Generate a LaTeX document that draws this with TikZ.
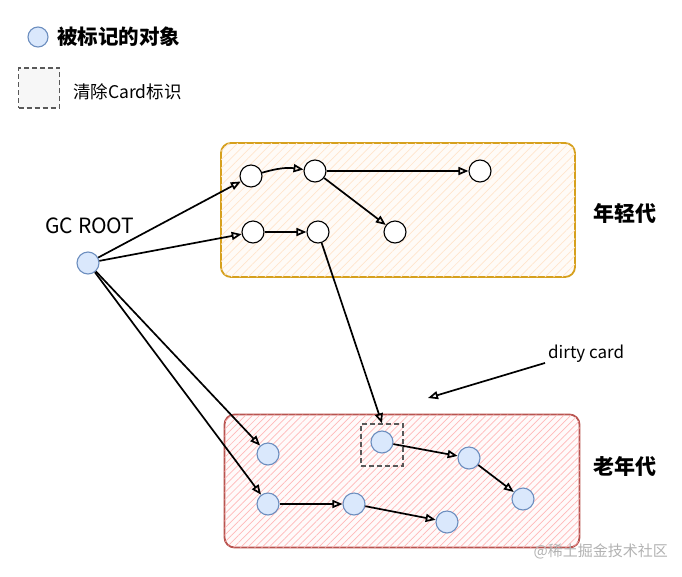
\documentclass[tikz,border=0pt]{standalone}
\usepackage{fontspec}
\setmainfont{Noto Sans CJK SC}
\usepackage{tikz}
\usetikzlibrary{arrows.meta,patterns.meta}
\pgfdeclarelayer{bg}
\pgfsetlayers{bg,main}
\definecolor{objfill}{HTML}{DAE8FC}
\definecolor{objline}{HTML}{6C8EBF}
\definecolor{younglinec}{HTML}{D6A01D}
\definecolor{oldlinec}{HTML}{B85450}
\tikzset{
  obj/.style={circle, draw=objline, fill=objfill, line width=1.1pt, minimum size=22pt, inner sep=0pt},
  plain/.style={circle, draw=black, fill=white, line width=1.1pt, minimum size=22pt, inner sep=0pt},
  ref/.style={line width=1.7pt, -{Triangle[open,length=10pt,width=8pt]}},
  cardbox/.style={draw=black!65, dash pattern=on 5pt off 3pt, line width=1.4pt, fill=black!3, inner sep=0pt},
  region/.style={line width=1.8pt, rounded corners=10pt},
}

\begin{document}
\begin{tikzpicture}
        \useasboundingbox (0pt, 0pt) rectangle (682pt, -576pt);
        % legend
        \node (l0) [obj, minimum size=20pt] at (38pt, -37pt) {};
        \node (l1) [anchor=west, inner sep=0pt, font=\bfseries\fontsize{20.5}{22}\selectfont] at (57pt, -37pt) {被标记的对象};
        \node (l2) [cardbox, minimum width=41pt, minimum height=40pt] at (39pt, -88pt) {};
        \node (l3) [anchor=west, inner sep=0pt, font=\fontsize{17.5}{19}\selectfont] at (73pt, -92pt) {清除Card标识};
        % regions
        \node (young) [region, draw=younglinec, fill=orange!3,
                postaction={pattern={Lines[angle=45,distance=6pt,line width=0.7pt]}, pattern color=orange!20},
                minimum width=354pt, minimum height=134pt] at (398pt, -210pt) {};
        \node (old) [region, draw=oldlinec, fill=red!2,
                postaction={pattern={Lines[angle=45,distance=5pt,line width=0.7pt]}, pattern color=red!28},
                minimum width=355pt, minimum height=133pt] at (402pt, -481pt) {};
        \node (ylabel) [font=\bfseries\fontsize{21}{23}\selectfont] at (625pt, -213pt) {年轻代};
        \node (olabel) [font=\bfseries\fontsize{21}{23}\selectfont] at (625pt, -466pt) {老年代};
        % root
        \node (r0) [obj] at (88pt, -263pt) {};
        \node (rlabel) [font=\fontsize{21}{23}\selectfont] at (90pt, -226pt) {GC ROOT};
        % young objects
        \node (y1) [plain] at (251pt, -176pt) {};
        \node (y2) [plain] at (315pt, -171pt) {};
        \node (y3) [plain] at (480pt, -171pt) {};
        \node (y4) [plain] at (253pt, -232pt) {};
        \node (y5) [plain] at (318pt, -232pt) {};
        \node (y6) [plain] at (395pt, -232pt) {};
        % old objects
        \node (o1) [obj] at (268pt, -454pt) {};
        \node (card) [cardbox, fill=none, minimum width=42pt, minimum height=42pt] at (382pt, -445pt) {};
        \node (o2) [obj] at (382pt, -442pt) {};
        \node (o3) [obj] at (469pt, -458pt) {};
        \node (o4) [obj] at (523pt, -499pt) {};
        \node (o5) [obj] at (268pt, -504pt) {};
        \node (o6) [obj] at (354pt, -504pt) {};
        \node (o7) [obj] at (447pt, -522pt) {};
        % dirty card note
        \node (dirty) [anchor=west, inner sep=0pt, font=\fontsize{17}{19}\selectfont] at (548pt, -354pt) {dirty card};
        \coordinate (dc) at (428pt, -398pt);
        % watermark
        \node (wm) [anchor=east, inner sep=0pt, text=black!30, font=\fontsize{15}{17}\selectfont] at (668pt, -551pt) {@稀土掘金技术社区};
        \begin{pgfonlayer}{main}
                \draw (r0) edge [ref] (y1);
                \draw (r0) edge [ref] (y4);
                \draw (r0) edge [ref] (o1);
                \draw (r0) edge [ref] (o5);
                \draw (y1) edge [ref, bend left=12] (y2);
                \draw (y2) edge [ref] (y3);
                \draw (y2) edge [ref] (y6);
                \draw (y4) edge [ref] (y5);
                \draw (y5) edge [ref] (card.north);
                \draw (o2) edge [ref] (o3);
                \draw (o3) edge [ref] (o4);
                \draw (o5) edge [ref] (o6);
                \draw (o6) edge [ref] (o7);
                \draw ([xshift=-3pt]dirty.south west) edge [ref] (dc);
        \end{pgfonlayer}
\end{tikzpicture}
\end{document}
